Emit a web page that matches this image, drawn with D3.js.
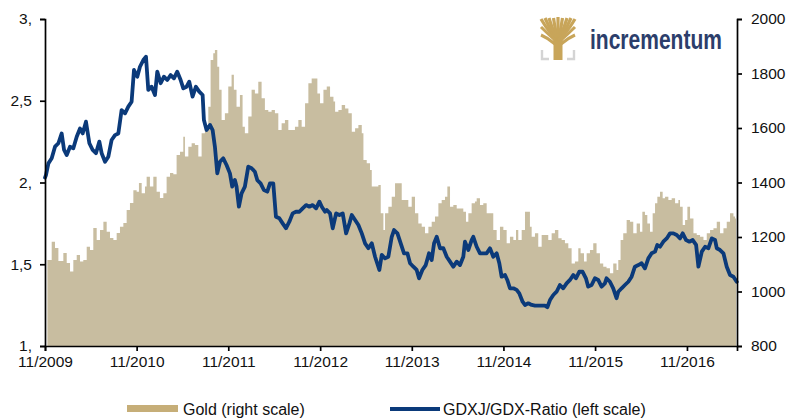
<!DOCTYPE html>
<html><head><meta charset="utf-8">
<script src="https://cdn.jsdelivr.net/npm/d3@7"></script>
<style>html,body{margin:0;padding:0;background:#fff;}svg{display:block;font-family:"Liberation Sans",Arial,sans-serif;}</style>
</head><body>
<svg id="c" width="794" height="419"></svg>
<script>
// ---- data (time as decimal years) ----
const goldT = [2009.859,2009.906,2009.942,2009.979,2010.015,2010.033,2010.070,2010.106,2010.142,2010.179,2010.215,2010.251,2010.288,2010.324,2010.360,2010.397,2010.433,2010.470,2010.506,2010.542,2010.579,2010.615,2010.651,2010.688,2010.724,2010.760,2010.797,2010.833,2010.858,2010.888,2010.924,2010.942,2010.978,2011.015,2011.051,2011.087,2011.124,2011.160,2011.197,2011.233,2011.269,2011.306,2011.342,2011.360,2011.397,2011.433,2011.469,2011.506,2011.542,2011.578,2011.615,2011.640,2011.669,2011.687,2011.713,2011.734,2011.760,2011.796,2011.833,2011.869,2011.894,2011.923,2011.960,2011.989,2012.014,2012.051,2012.087,2012.123,2012.160,2012.196,2012.232,2012.269,2012.305,2012.341,2012.378,2012.414,2012.450,2012.487,2012.523,2012.559,2012.596,2012.632,2012.669,2012.705,2012.741,2012.778,2012.803,2012.832,2012.869,2012.905,2012.941,2012.978,2012.996,2013.032,2013.068,2013.105,2013.141,2013.178,2013.214,2013.250,2013.287,2013.305,2013.341,2013.377,2013.396,2013.432,2013.468,2013.494,2013.523,2013.541,2013.577,2013.614,2013.650,2013.686,2013.723,2013.759,2013.795,2013.832,2013.868,2013.904,2013.941,2013.977,2014.014,2014.050,2014.086,2014.123,2014.159,2014.195,2014.221,2014.250,2014.286,2014.323,2014.359,2014.395,2014.424,2014.450,2014.486,2014.522,2014.541,2014.577,2014.613,2014.650,2014.686,2014.722,2014.759,2014.795,2014.832,2014.868,2014.904,2014.941,2014.970,2014.995,2015.032,2015.068,2015.086,2015.122,2015.141,2015.177,2015.213,2015.250,2015.286,2015.322,2015.359,2015.395,2015.432,2015.468,2015.504,2015.541,2015.577,2015.613,2015.650,2015.675,2015.712,2015.741,2015.777,2015.813,2015.849,2015.886,2015.922,2015.958,2015.995,2016.031,2016.067,2016.086,2016.111,2016.140,2016.177,2016.213,2016.249,2016.286,2016.322,2016.348,2016.376,2016.402,2016.431,2016.460,2016.486,2016.511,2016.540,2016.569,2016.595,2016.631,2016.667,2016.704,2016.740,2016.758,2016.787,2016.813,2016.838,2016.867,2016.904,2016.940,2016.976,2017.013,2017.049,2017.085,2017.122,2017.158,2017.194,2017.231,2017.267,2017.303,2017.340,2017.358,2017.369];
const goldV = [1116,1183,1160,1112,1112,1141,1105,1073,1116,1134,1110,1116,1164,1152,1233,1189,1226,1256,1219,1196,1189,1215,1238,1251,1299,1325,1372,1366,1398,1361,1385,1421,1385,1421,1366,1343,1361,1421,1435,1430,1501,1513,1568,1495,1531,1544,1538,1495,1581,1605,1678,1850,1874,1886,1825,1740,1629,1654,1752,1795,1740,1678,1721,1605,1581,1642,1740,1727,1770,1709,1666,1660,1666,1654,1593,1617,1629,1593,1593,1605,1629,1605,1691,1764,1782,1782,1727,1691,1740,1752,1715,1697,1660,1666,1684,1672,1654,1586,1599,1611,1581,1483,1471,1446,1385,1385,1391,1287,1226,1287,1311,1348,1397,1397,1336,1336,1311,1348,1287,1250,1238,1214,1238,1256,1275,1324,1336,1348,1385,1311,1317,1305,1305,1293,1256,1287,1324,1330,1342,1317,1324,1287,1287,1226,1189,1238,1226,1177,1201,1189,1226,1189,1226,1293,1293,1238,1201,1214,1164,1207,1207,1189,1214,1226,1195,1189,1177,1159,1103,1110,1159,1140,1110,1140,1152,1177,1140,1103,1091,1085,1067,1103,1079,1116,1189,1214,1262,1256,1214,1250,1219,1293,1281,1250,1219,1287,1324,1348,1366,1342,1348,1336,1342,1324,1336,1311,1244,1262,1311,1268,1214,1207,1201,1189,1214,1226,1232,1256,1214,1232,1256,1287,1275,1268,1268];
const ratioT = [2009.833,2009.844,2009.870,2009.906,2009.942,2009.979,2010.015,2010.041,2010.070,2010.106,2010.142,2010.179,2010.215,2010.244,2010.280,2010.317,2010.353,2010.389,2010.426,2010.451,2010.488,2010.524,2010.560,2010.597,2010.633,2010.669,2010.706,2010.742,2010.778,2010.804,2010.840,2010.869,2010.906,2010.935,2010.960,2010.996,2011.033,2011.058,2011.095,2011.131,2011.167,2011.204,2011.240,2011.276,2011.313,2011.342,2011.378,2011.407,2011.443,2011.480,2011.516,2011.553,2011.567,2011.596,2011.633,2011.662,2011.687,2011.713,2011.742,2011.778,2011.814,2011.851,2011.876,2011.905,2011.923,2011.949,2011.978,2012.014,2012.051,2012.087,2012.123,2012.149,2012.185,2012.221,2012.258,2012.287,2012.323,2012.352,2012.389,2012.425,2012.461,2012.498,2012.534,2012.570,2012.607,2012.643,2012.680,2012.716,2012.752,2012.789,2012.825,2012.851,2012.887,2012.905,2012.941,2012.970,2013.007,2013.043,2013.079,2013.116,2013.152,2013.178,2013.214,2013.250,2013.287,2013.323,2013.359,2013.396,2013.432,2013.479,2013.505,2013.541,2013.577,2013.614,2013.639,2013.676,2013.712,2013.748,2013.785,2013.814,2013.850,2013.886,2013.912,2013.948,2013.985,2014.021,2014.050,2014.076,2014.105,2014.141,2014.177,2014.214,2014.250,2014.286,2014.323,2014.359,2014.395,2014.413,2014.450,2014.486,2014.504,2014.541,2014.577,2014.613,2014.650,2014.686,2014.722,2014.759,2014.788,2014.813,2014.850,2014.875,2014.904,2014.941,2014.977,2015.006,2015.042,2015.068,2015.104,2015.141,2015.177,2015.213,2015.250,2015.286,2015.312,2015.341,2015.377,2015.413,2015.449,2015.486,2015.522,2015.559,2015.595,2015.624,2015.660,2015.697,2015.733,2015.758,2015.795,2015.831,2015.867,2015.904,2015.940,2015.958,2015.995,2016.031,2016.067,2016.086,2016.122,2016.158,2016.195,2016.231,2016.267,2016.304,2016.340,2016.376,2016.413,2016.449,2016.486,2016.511,2016.540,2016.576,2016.613,2016.649,2016.686,2016.722,2016.758,2016.787,2016.824,2016.860,2016.896,2016.933,2016.958,2016.995,2017.031,2017.067,2017.104,2017.140,2017.158,2017.194,2017.231,2017.267,2017.303,2017.340,2017.376];
const ratioV = [2.03,2.046,2.117,2.148,2.219,2.24,2.30,2.199,2.168,2.219,2.209,2.28,2.33,2.30,2.372,2.24,2.199,2.179,2.25,2.179,2.127,2.158,2.26,2.29,2.30,2.443,2.423,2.464,2.494,2.688,2.647,2.708,2.749,2.769,2.566,2.586,2.535,2.678,2.607,2.647,2.627,2.657,2.637,2.678,2.627,2.576,2.586,2.617,2.525,2.586,2.556,2.535,2.382,2.321,2.352,2.321,2.219,2.056,2.127,2.148,2.107,2.056,1.975,2.015,1.975,1.852,1.934,1.975,2.097,2.087,2.066,2.015,1.995,1.954,1.944,1.995,1.995,1.791,1.781,1.750,1.720,1.760,1.811,1.821,1.821,1.842,1.862,1.852,1.862,1.842,1.883,1.852,1.821,1.832,1.811,1.720,1.811,1.801,1.811,1.689,1.750,1.801,1.771,1.740,1.689,1.628,1.598,1.628,1.546,1.465,1.557,1.536,1.546,1.668,1.709,1.689,1.628,1.567,1.567,1.506,1.485,1.465,1.414,1.465,1.495,1.567,1.526,1.628,1.668,1.598,1.598,1.546,1.516,1.485,1.516,1.495,1.546,1.638,1.587,1.648,1.668,1.607,1.567,1.567,1.567,1.598,1.546,1.567,1.506,1.424,1.434,1.404,1.353,1.353,1.343,1.322,1.271,1.251,1.261,1.251,1.247,1.247,1.247,1.247,1.237,1.281,1.312,1.332,1.373,1.353,1.383,1.404,1.434,1.414,1.454,1.454,1.414,1.363,1.373,1.414,1.404,1.363,1.383,1.414,1.393,1.353,1.292,1.332,1.353,1.373,1.393,1.424,1.485,1.495,1.506,1.475,1.536,1.567,1.577,1.618,1.607,1.638,1.658,1.689,1.689,1.679,1.658,1.689,1.648,1.638,1.648,1.618,1.485,1.577,1.607,1.598,1.658,1.648,1.598,1.587,1.567,1.485,1.434,1.424,1.393];
const xTickYears = [2009,2010,2011,2012,2013,2014,2015,2016];
const leftTicks = [1,1.5,2,2.5,3];
const leftTickLabels = ["1,","1,5","2,","2,5","3,"];
const rightTicks = [800,1000,1200,1400,1600,1800,2000];
const legendLabels = ["Gold (right scale)","GDXJ/GDX-Ratio (left scale)"];

// ---- helpers ----
function dec2date(t){
  const y = Math.floor(t), f = t - y;
  const a = Date.UTC(y,0,1), b = Date.UTC(y+1,0,1);
  return new Date(a + f*(b-a));
}
const gold = goldT.map((t,i)=>({d:dec2date(t), v:goldV[i]}));
const ratio = ratioT.map((t,i)=>({d:dec2date(t), v:ratioV[i]}));

const L=45, R=737, T=19, B=346;
const x = d3.scaleUtc().domain([new Date(Date.UTC(2009,10,1)), dec2date(2017.379)]).range([L,R]);
const yL = d3.scaleLinear().domain([1,3]).range([B,T]);
const yR = d3.scaleLinear().domain([800,2000]).range([B,T]);

const svg = d3.select("#c");

// gold area
svg.append("path").datum(gold)
  .attr("fill","#c8bda0")
  .attr("d", d3.area().curve(d3.curveStepAfter).x(d=>x(d.d)).y0(B).y1(d=>yR(d.v)));

// ratio line
svg.append("path").datum(ratio)
  .attr("fill","none").attr("stroke","#0b3a7a").attr("stroke-width",3.8)
  .attr("stroke-linejoin","round").attr("stroke-linecap","round")
  .attr("d", d3.line().x(d=>x(d.d)).y(d=>yL(d.v)));

// axes
const fs = "15.5px";
const axL = svg.append("g").attr("transform",`translate(${L},0)`)
  .call(d3.axisLeft(yL).tickValues(leftTicks).tickFormat((d,i)=>leftTickLabels[i]).tickSizeOuter(0).tickSize(5).tickPadding(8));
const axR = svg.append("g").attr("transform",`translate(${R},0)`)
  .call(d3.axisRight(yR).tickValues(rightTicks).tickFormat(d3.format("d")).tickSizeOuter(0).tickSize(5).tickPadding(9));
const axB = svg.append("g").attr("transform",`translate(0,${B})`)
  .call(d3.axisBottom(x).tickValues(xTickYears.map(y=>new Date(Date.UTC(y,10,1)))).tickFormat(d3.utcFormat("%m/%Y")).tickSizeOuter(0).tickSize(5).tickPadding(5));
[axL,axR,axB].forEach(g=>{
  g.selectAll("path.domain").attr("stroke","#000").attr("stroke-width",1.7);
  g.selectAll(".tick line").attr("stroke","#000").attr("stroke-width",1.7);
  g.selectAll("text").attr("fill","#111").style("font-size",fs).style("font-family","'Liberation Sans',Arial,sans-serif");
});

// legend
const lg = svg.append("g");
lg.append("rect").attr("x",127).attr("y",405).attr("width",51).attr("height",7).attr("fill","#c6ae78");
lg.append("text").attr("x",183).attr("y",414.5).text(legendLabels[0]).style("font-size","16px").attr("fill","#111");
lg.append("line").attr("x1",390).attr("x2",440).attr("y1",409).attr("y2",409).attr("stroke","#0b3a7a").attr("stroke-width",4);
lg.append("text").attr("x",443).attr("y",414.5).text(legendLabels[1]).style("font-size","16px").attr("fill","#111");

// logo
const logo = svg.append("g");
const gc = "#c8a55a";
logo.append("rect").attr("x",553.5).attr("y",34).attr("width",9).attr("height",26).attr("fill",gc);
const br = [[541,19],[545,18],[549,18],[553.5,18],[558,17],[562.5,18],[567,18],[571,18],[575,19]];
br.forEach(p=>{
  logo.append("path").attr("d",`M558,40 Q${(558+p[0])/2},${(40+p[1])/2+4} ${p[0]},${p[1]}`)
    .attr("fill","none").attr("stroke",gc).attr("stroke-width",3.2);
});
logo.append("path").attr("d","M541,27 Q548,34 555,40 M575,27 Q568,34 561,40 M541,35 Q548,38 555,44 M575,35 Q568,38 561,44").attr("fill","none").attr("stroke",gc).attr("stroke-width",3);
logo.append("path").attr("d","M542,50 L542,59 L549,59 M574,50 L574,59 L567,59").attr("fill","none").attr("stroke","#d4d4d4").attr("stroke-width",2.4);
logo.append("text").attr("x",590).attr("y",49).text("incrementum")
  .attr("textLength",132).attr("lengthAdjust","spacingAndGlyphs")
  .style("font-size","27px").style("font-weight","bold").style("font-family","'Liberation Sans',Arial,sans-serif").attr("fill","#2c3e6b");
</script>
</body></html>
